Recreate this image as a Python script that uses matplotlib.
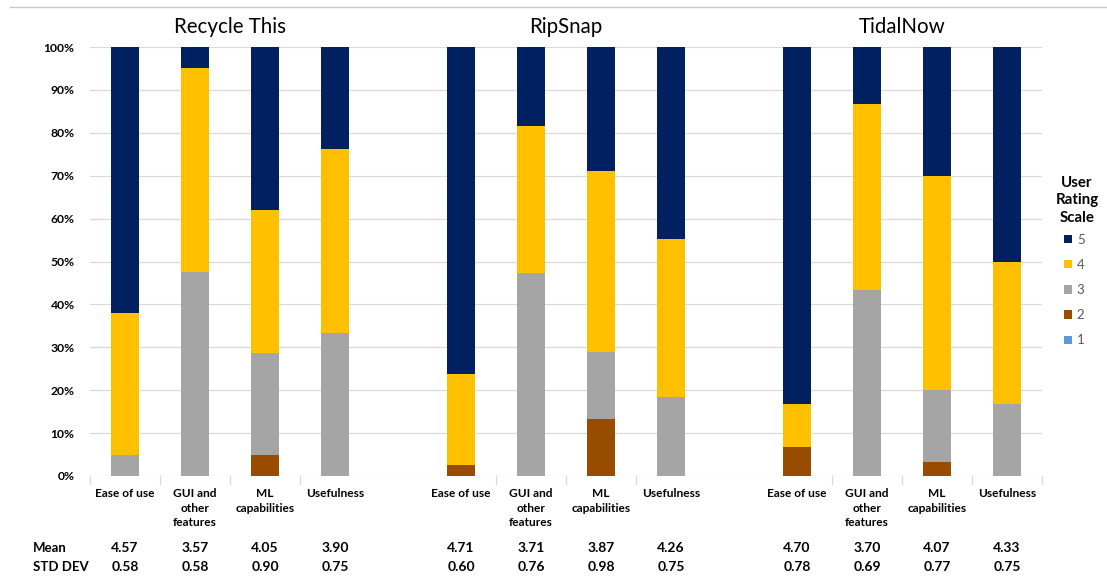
import matplotlib
import matplotlib.pyplot as plt
import matplotlib.transforms as mtransforms
from matplotlib.patches import Patch
from matplotlib.lines import Line2D
import numpy as np

matplotlib.use("Agg")

plt.rcParams["font.family"] = ["Lato", "DejaVu Sans"]

apps = ["Recycle This", "RipSnap", "TidalNow"]
criteria = ["Ease of use", "GUI and\nother\nfeatures", "ML\ncapabilities", "Usefulness"]

# share of answers (%) per rating, ordered app by app, criterion by criterion
rating_1 = [0, 0, 0, 0, 0, 0, 0, 0, 0, 0, 0, 0]
rating_2 = [0, 0, 4.8, 0, 2.6, 0, 13.2, 0, 6.7, 0, 3.3, 0]
rating_3 = [4.8, 47.6, 23.8, 33.3, 0, 47.4, 15.8, 18.4, 0, 43.3, 16.7, 16.7]
rating_4 = [33.3, 47.6, 33.3, 42.9, 21.1, 34.2, 42.1, 36.8, 10.0, 43.3, 50.0, 33.3]
rating_5 = [61.9, 4.8, 38.1, 23.8, 76.3, 18.4, 28.9, 44.7, 83.3, 13.3, 30.0, 50.0]

mean_vals = ["4.57", "3.57", "4.05", "3.90", "4.71", "3.71", "3.87", "4.26",
             "4.70", "3.70", "4.07", "4.33"]
std_vals = ["0.58", "0.58", "0.90", "0.75", "0.60", "0.76", "0.98", "0.75",
            "0.78", "0.69", "0.77", "0.75"]

colors = {
    "1": "#5B9BD5",
    "2": "#984C00",
    "3": "#A5A5A5",
    "4": "#FFC000",
    "5": "#002060",
}

W, H = 1107, 577
fig = plt.figure(figsize=(W / 100, H / 100), dpi=100)
ax = fig.add_axes([90 / W, 1 - 476 / H, (1042 - 90) / W, (476 - 47) / H])

group_step = 4.8
x = np.array([g * group_step + i for g in range(len(apps)) for i in range(len(criteria))])

bottom = np.zeros(len(x))
for key, vals in [("1", rating_1), ("2", rating_2), ("3", rating_3), ("4", rating_4), ("5", rating_5)]:
    vals = np.array(vals, dtype=float)
    ax.bar(x, vals, 0.4, bottom=bottom, color=colors[key], zorder=3)
    bottom += vals

ax.set_xlim(-0.5, (len(apps) - 1) * group_step + len(criteria) - 0.5)
ax.set_ylim(0, 100)
ax.set_yticks(np.arange(0, 101, 10))
ax.set_yticklabels([f"{v}%" for v in range(0, 101, 10)], fontsize=8.7, fontweight="bold")
ax.tick_params(axis="y", length=0, pad=11)
ax.set_xticks([])
ax.grid(axis="y", color="#D9D9D9", linewidth=0.9, zorder=0)
for side in ["top", "right", "left", "bottom"]:
    ax.spines[side].set_visible(False)

# x in data units, y in figure pixels from the top
trans = mtransforms.blended_transform_factory(ax.transData, fig.transFigure)


def fy(px):
    return 1 - px / H


# separator ticks under the axis
sep = [-0.5] + [g * group_step + i + 0.5 for g in range(len(apps)) for i in range(len(criteria) - 1)]
sep += [(len(apps) - 1) * group_step + len(criteria) - 0.5]
for s in sep:
    fig.add_artist(Line2D([s, s], [fy(476), fy(484)], transform=trans,
                          color="#D9D9D9", linewidth=0.9))

for xi, lab in zip(x, criteria * len(apps)):
    fig.text(xi, fy(488), lab, transform=trans, ha="center", va="top",
             fontsize=8.6, fontweight="bold", linespacing=1.4)

for xi, m, s in zip(x, mean_vals, std_vals):
    fig.text(xi, fy(552), m, transform=trans, ha="center", va="baseline",
             fontsize=10, fontweight="bold")
    fig.text(xi, fy(571), s, transform=trans, ha="center", va="baseline",
             fontsize=10, fontweight="bold")
fig.text(33 / W, fy(552), "Mean", ha="left", va="baseline", fontsize=9.5, fontweight="bold")
fig.text(33 / W, fy(571), "STD DEV", ha="left", va="baseline", fontsize=9.5, fontweight="bold")

for g, name in enumerate(apps):
    cx = g * group_step + (len(criteria) - 1) / 2
    fig.text(cx, fy(33), name, transform=trans, ha="center", va="baseline", fontsize=14.8)

fig.add_artist(Line2D([10 / W, 1], [fy(7), fy(7)], color="#C8C8C8", linewidth=1))

# legend: title drawn separately so its line pitch can be set freely
fig.text(1077 / W, fy(176), "User\nRating\nScale", ha="center", va="top",
         fontsize=10.8, fontweight="bold", linespacing=1.3)
handles = [Patch(facecolor=colors[k], label=k) for k in ["5", "4", "3", "2", "1"]]
leg = fig.legend(handles=handles, loc="upper left",
                 bbox_to_anchor=(1057 / W, fy(227)), frameon=False, fontsize=9.5,
                 handlelength=0.6, handleheight=0.6, handletextpad=0.4,
                 labelspacing=1.0, borderpad=0)
for t in leg.get_texts():
    t.set_color("#595959")

fig.savefig("out.png", dpi=100)
